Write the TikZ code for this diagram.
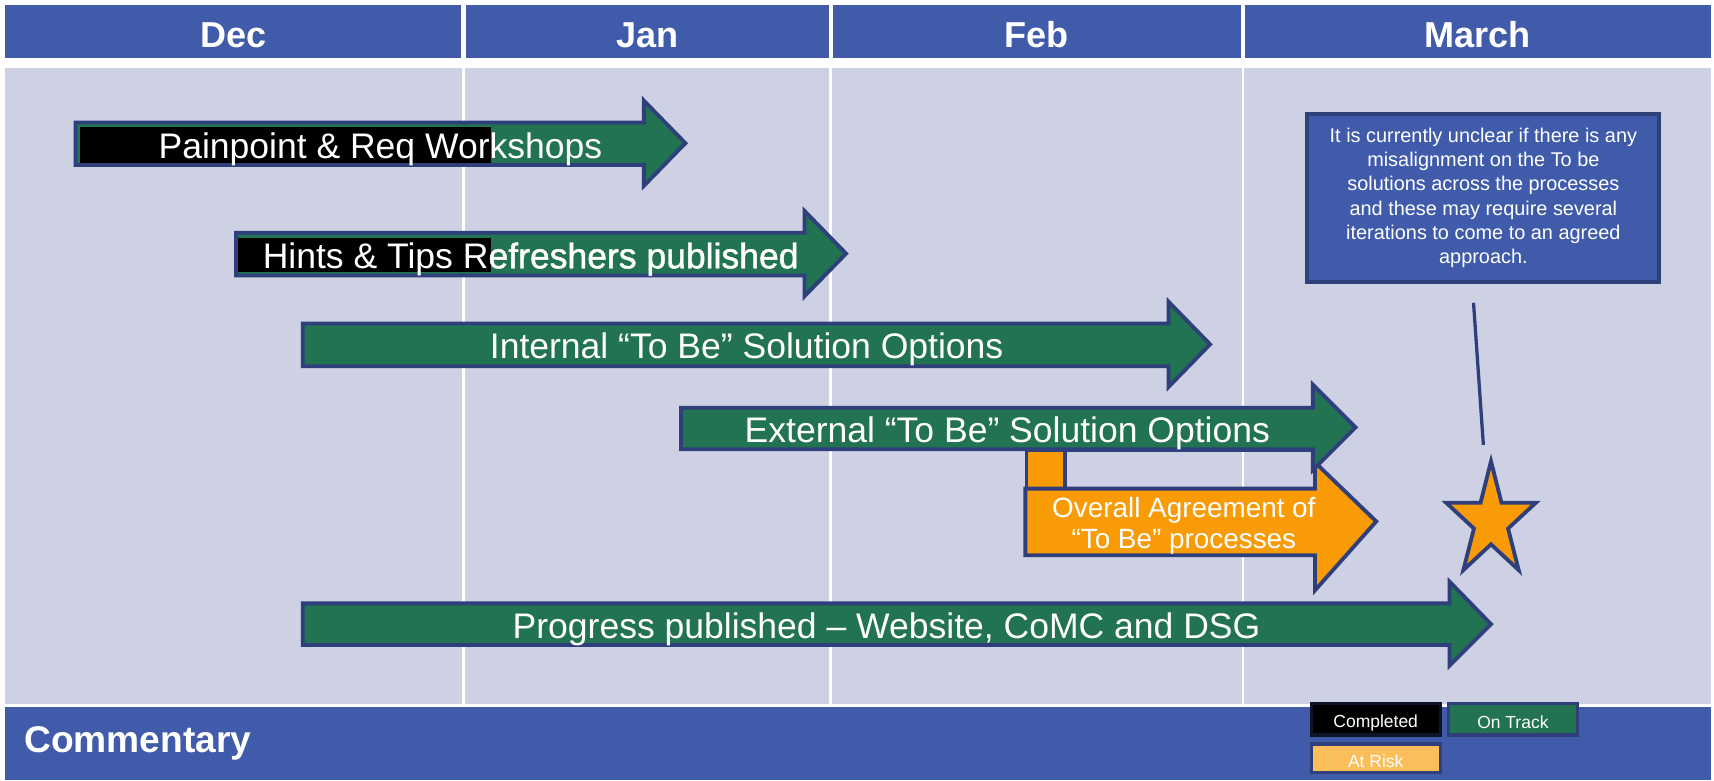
\documentclass[tikz,border=0pt]{standalone}
\usepackage{fontspec}
\setmainfont{Liberation Sans}
\newfontfamily\heavyish[FakeBold=1.3]{Liberation Sans}
\definecolor{hdrblue}{HTML}{3F5BA9}
\definecolor{bodygray}{HTML}{CDD1E3}
\definecolor{trackgreen}{HTML}{217352}
\definecolor{navy}{HTML}{2E3F7B}
\definecolor{riskorange}{HTML}{F99B07}
\definecolor{risklight}{HTML}{FBBE5A}
\definecolor{notenavy}{HTML}{2D4179}
\begin{document}
\begin{tikzpicture}[x=1pt,y=-1pt,
  hdr/.style={text=white, minimum height=48pt, inner sep=0pt,
    font=\fontsize{33}{40}\selectfont\bfseries},
  barrow/.style={fill=trackgreen, draw=navy, line width=3.5pt, line join=miter},
  oarrow/.style={fill=riskorange, draw=navy, line width=3.5pt, line join=miter},
  arrowtext/.style={text=white, inner sep=0pt, font=\fontsize{32.5}{38}\selectfont},
  orangetext/.style={text=white, inner sep=0pt, align=center, font=\fontsize{25.5}{29}\selectfont},
  notebox/.style={fill=hdrblue, draw=notenavy, line width=3.5pt, text=white, align=center,
    minimum width=322pt, minimum height=154pt, inner sep=0pt,
    font=\fontsize{18.2}{22}\selectfont},
  legendbox/.style={minimum width=118pt, minimum height=29pt, inner sep=0pt, line width=3pt},
  legendtext/.style={text=white, inner sep=0pt, font=\fontsize{16}{19}\selectfont},
  gridline/.style={white, line width=2.5pt}
]
\useasboundingbox (0,0) rectangle (1568,714);
\fill[white] (0,0) rectangle (1568,714);
% header
\fill[hdrblue] (5,5) rectangle (422,53);
\fill[hdrblue] (426,5) rectangle (758,53);
\fill[hdrblue] (762,5) rectangle (1135,53);
\fill[hdrblue] (1139,5) rectangle (1565,53);
\node[hdr, minimum width=417pt] (dec) at (213.5,32) {Dec};
\node[hdr, minimum width=332pt] (jan) at (592,32) {Jan};
\node[hdr, minimum width=373pt] (feb) at (948.5,32) {Feb};
\node[hdr, minimum width=426pt] (mar) at (1352,32) {March};
% body
\fill[bodygray] (5,62) rectangle (1565,644);
\draw[gridline] (424,62) -- (424,644);
\draw[gridline] (760,62) -- (760,644);
\draw[gridline] (1137,62) -- (1137,644);
% bottom bar
\fill[hdrblue] (5,647) rectangle (1565,714);
\node[text=white, anchor=west, inner sep=0pt, font=\fontsize{34}{40}\selectfont\bfseries] (comm) at (22,680) {Commentary};

% arrow 1
\draw[barrow] (69,112) -- (589,112) -- (589,92) -- (627,131) -- (589,170) -- (589,151) -- (69,151) -- cycle;
\fill[black] (73,116) rectangle (449,149);
\node[arrowtext] (t1) at (348,137) {Painpoint \& Req Workshops};
% arrow 2
\draw[barrow] (216,213) -- (736,213) -- (736,193) -- (774,232) -- (736,271) -- (736,252) -- (216,252) -- cycle;
\fill[black] (218,218) rectangle (449,249);
\node[arrowtext] (t2) at (485.5,237) {Hints \& Tips R{\heavyish efreshers published}};
% arrow 3
\draw[barrow] (277,296) -- (1069,296) -- (1069,276) -- (1107,315) -- (1069,354) -- (1069,335) -- (277,335) -- cycle;
\node[arrowtext] (t3) at (683,320) {Internal “To Be” Solution Options};
% arrow 5 (orange)
\fill[riskorange] (939,412) rectangle (974,447);
\draw[navy, line width=3.5pt] (939,412) rectangle (1203,447);
\draw[navy, line width=3.5pt] (974,412) -- (974,447);
\draw[oarrow] (938,447) -- (1203,447) -- (1203,423) -- (1259,477) -- (1203,540) -- (1203,508) -- (938,508) -- cycle;
\node[orangetext] (t5) at (1083,481) {Overall Agreement of\\“To Be” processes};
% arrow 4
\draw[barrow] (623,373) -- (1201,373) -- (1201,352) -- (1240,391) -- (1201,430) -- (1201,411) -- (623,411) -- cycle;
\node[arrowtext] (t4) at (921.5,396) {External “To Be” Solution Options};
% arrow 6
\draw[barrow] (277,552) -- (1326,552) -- (1326,532) -- (1364,571) -- (1326,609) -- (1326,590) -- (277,590) -- cycle;
\node[arrowtext] (t6) at (811,576) {Progress published – Website, CoMC and DSG};

% callout
\node[notebox] (note) at (1357,181) {It is currently unclear if there is any\\misalignment on the To be\\solutions across the processes\\and these may require several\\iterations to come to an agreed\\approach.};
\coordinate (lineA) at (1348,277);
\coordinate (lineB) at (1357,407);
\draw[navy, line width=3pt] (lineA) -- (lineB);
% star
\draw[fill=riskorange, draw=navy, line width=3.5pt, line join=miter]
  (1364,422) -- (1354.4,460) -- (1323.1,460) -- (1348.4,483.5) -- (1338.7,521.5)
  -- (1364,498) -- (1389.3,521.5) -- (1379.6,483.5) -- (1404.9,460) -- (1373.6,460) -- cycle;

% legend
\node[legendbox, fill=black, draw=black!70!navy] (lgc) at (1258.5,658) {};
\node[legendtext] (lgct) at (1258.5,661) {Completed};
\node[legendbox, fill=trackgreen, draw=navy] (lgt) at (1384,658) {};
\node[legendtext] (lgtt) at (1384,661) {On Track};
\node[legendbox, fill=risklight, draw=navy, minimum height=26pt] (lgr) at (1258.5,693.5) {};
\node[legendtext] (lgrt) at (1258.5,696) {At Risk};
\end{tikzpicture}
\end{document}
